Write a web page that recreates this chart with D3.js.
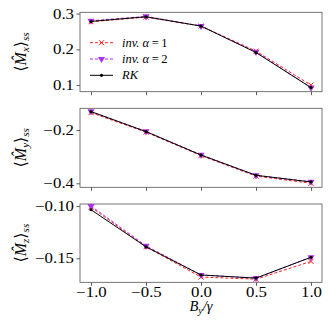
<!DOCTYPE html>
<html>
<head>
<meta charset="utf-8">
<script src="https://cdn.jsdelivr.net/npm/d3@7"></script>
<style>
body { margin: 0; background: #fff; }
svg text { font-family: "Liberation Serif", "DejaVu Serif", serif; }
</style>
</head>
<body>
<svg width="330" height="330"></svg>
<script>
// x values and tick labels
const fields = [-1.0, -0.5, 0.0, 0.5, 1.0];
const xTicks = [-1.0, -0.5, 0.0, 0.5, 1.0];

// Mx
const mxInv1 = [0.277, 0.290, 0.265, 0.195, 0.100];
const mxInv2 = [0.280, 0.292, 0.265, 0.193, 0.093];
const mxRK   = [0.278, 0.291, 0.265, 0.191, 0.093];
// My
const myInv1 = [-0.135, -0.208, -0.296, -0.373, -0.400];
const myInv2 = [-0.130, -0.205, -0.293, -0.370, -0.394];
const myRK   = [-0.131, -0.206, -0.294, -0.370, -0.395];
// Mz
const mzInv1 = [-0.101, -0.139, -0.168, -0.170, -0.153];
const mzInv2 = [-0.100, -0.138, -0.166, -0.169, -0.149];
const mzRK   = [-0.1035, -0.139, -0.166, -0.169, -0.149];

const yTicksX = [0.1, 0.2, 0.3];
const yTicksY = [-0.4, -0.2];
const yTicksZ = [-0.15, -0.10];

const series = [
  {name: 'inv. α = 1', color: '#ff2020', dash: '3,2', marker: 'x'},
  {name: 'inv. α = 2', color: '#b030f0', dash: '3,2', marker: 'tri'},
  {name: 'RK', color: '#000000', dash: null, marker: 'dot'}
];

const svg = d3.select('svg');
const left = 80, right = 322;
const x = d3.scaleLinear().domain([-1.1, 1.1]).range([left, right]);

const panels = [
  {top: 12.3, bottom: 91.7, dom: [0.0815, 0.3035], ticks: yTicksX, fmt: d3.format('.1f'), data: [mxInv1, mxInv2, mxRK], sub: 'x', legend: true},
  {top: 108.3, bottom: 187.3, dom: [-0.415, -0.1185], ticks: yTicksY, fmt: d3.format('.1f'), data: [myInv1, myInv2, myRK], sub: 'y'},
  {top: 204, bottom: 282.3, dom: [-0.173, -0.098], ticks: yTicksZ, fmt: d3.format('.2f'), data: [mzInv1, mzInv2, mzRK], sub: 'z', xlabels: true}
];

function drawMarker(g, type, color, px, py) {
  if (type === 'x') {
    g.append('path').attr('d', `M${px-2.5},${py-2.5}L${px+2.5},${py+2.5}M${px-2.5},${py+2.5}L${px+2.5},${py-2.5}`)
      .attr('stroke', color).attr('stroke-width', 1);
  } else if (type === 'tri') {
    g.append('path').attr('d', d3.symbol(d3.symbolTriangle, 22)())
      .attr('transform', `translate(${px},${py}) rotate(180)`).attr('fill', color);
  } else {
    g.append('circle').attr('cx', px).attr('cy', py).attr('r', 1.6).attr('fill', color);
  }
}

panels.forEach(p => {
  const y = d3.scaleLinear().domain(p.dom).range([p.bottom, p.top]);
  const g = svg.append('g');

  const yAxis = g.append('g').attr('transform', `translate(${left},0)`)
    .call(d3.axisLeft(y).tickValues(p.ticks).tickFormat(d => p.fmt(d).replace('-', '−')).tickSize(3.5).tickPadding(1.5));
  const xAxis = g.append('g').attr('transform', `translate(0,${p.bottom})`)
    .call(d3.axisBottom(x).tickValues(xTicks).tickFormat(p.xlabels ? (d => d3.format('.1f')(d).replace('-', '−')) : '').tickSize(3.5).tickPadding(1));
  [yAxis, xAxis].forEach(a => {
    a.select('.domain').remove();
    a.selectAll('line').attr('stroke', '#333').attr('stroke-width', 0.8);
    a.selectAll('text').attr('font-size', 14).attr('fill', '#000')
      .attr('font-family', '"Liberation Serif", serif')
      .attr('transform', 'scale(1.2,1)');
  });

  g.append('rect').attr('x', left).attr('y', p.top).attr('width', right - left).attr('height', p.bottom - p.top)
    .attr('fill', 'none').attr('stroke', '#555').attr('stroke-width', 0.8);

  const line = d3.line().x((d, i) => x(fields[i])).y(d => y(d));
  series.forEach((s, k) => {
    const vals = p.data[k];
    g.append('path').datum(vals).attr('d', line).attr('fill', 'none')
      .attr('stroke', s.color).attr('stroke-width', 1)
      .attr('stroke-dasharray', s.dash);
    vals.forEach((v, i) => drawMarker(g, s.marker, s.color, x(fields[i]), y(v)));
  });

  // y label
  const cy = (p.top + p.bottom) / 2;
  const t = g.append('text').attr('transform', `translate(26,${cy}) rotate(-90)`)
    .attr('text-anchor', 'middle').attr('font-size', 16).attr('font-style', 'italic');
  t.append('tspan').attr('font-style', 'normal').text('⟨');
  t.append('tspan').text('M\u0302');
  t.append('tspan').attr('font-size', 11).attr('dy', 3).text(p.sub);
  t.append('tspan').attr('font-style', 'normal').attr('dy', -3).text('⟩');
  t.append('tspan').attr('font-size', 11).attr('dy', 3).text('ss');

  if (p.legend) {
    const lg = g.append('g');
    series.forEach((s, k) => {
      const ly = 42.7 + k * 16.3;
      lg.append('line').attr('x1', 90).attr('x2', 113).attr('y1', ly).attr('y2', ly)
        .attr('stroke', s.color).attr('stroke-width', 1).attr('stroke-dasharray', s.dash);
      drawMarker(lg, s.marker, s.color, 101.5, ly);
      const lt = lg.append('text').attr('x', 122).attr('y', ly + 4).attr('font-size', 12.5).attr('font-style', 'italic');
      if (k < 2) {
        lt.append('tspan').text('inv. α');
        lt.append('tspan').attr('font-style', 'normal').text(`\u2009=\u2009${k + 1}`);
      } else {
        lt.text('RK');
      }
    });
  }
});

// x label
const xl = svg.append('text').attr('x', (left + right) / 2).attr('y', 311)
  .attr('text-anchor', 'middle').attr('font-size', 14.5).attr('font-style', 'italic');
xl.append('tspan').text('B');
xl.append('tspan').attr('font-size', 10).attr('dy', 3).text('y');
xl.append('tspan').attr('dy', -3).text('/γ');
</script>
</body>
</html>
